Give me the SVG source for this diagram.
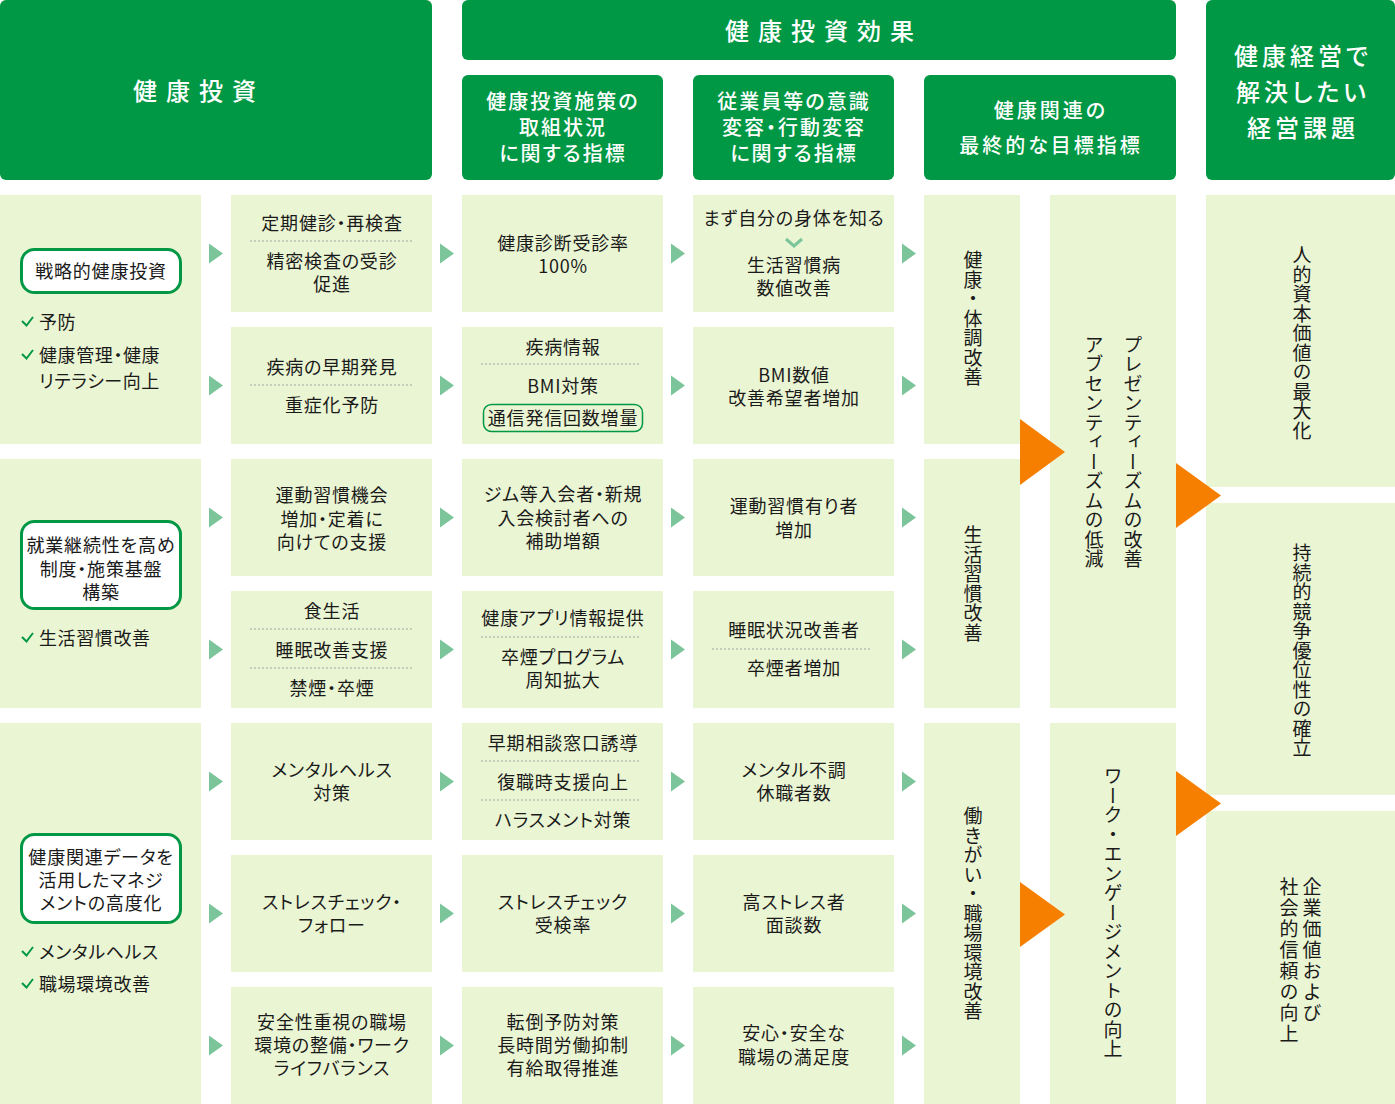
<svg xmlns="http://www.w3.org/2000/svg" xmlns:xlink="http://www.w3.org/1999/xlink" width="1395" height="1104" viewBox="0 0 1395 1104">
<defs>
<style>
text{font-family:"Noto Sans CJK JP","Liberation Sans",sans-serif;}
.hd{fill:#009844;}
.bx{fill:#eaf5d3;}
.sa{fill:#7cc59a;}
.oa{fill:#f77f00;}
.pill{fill:#fff;stroke:#009844;stroke-width:3;}
.pill2{fill:none;stroke:#009844;stroke-width:1.5;}
.ck{fill:none;stroke:#009844;stroke-width:2;}
.chev{fill:none;stroke:#7cc59a;stroke-width:3;}
.dl{stroke:#999;stroke-width:1.6;stroke-dasharray:0 4;stroke-linecap:round;}
.ht{fill:#fff;font-weight:500;text-anchor:middle;dominant-baseline:central;font-feature-settings:"palt";}
.t{fill:#1a1a1a;font-size:18px;letter-spacing:0.8px;text-anchor:middle;dominant-baseline:central;font-feature-settings:"palt";}
.tl{fill:#1a1a1a;font-size:18px;letter-spacing:0.6px;dominant-baseline:central;font-feature-settings:"palt";}
.vt{fill:#1a1a1a;font-size:19px;letter-spacing:0.5px;writing-mode:vertical-rl;text-anchor:middle;}
.vs{fill:#1a1a1a;font-size:19px;letter-spacing:2px;writing-mode:vertical-rl;text-anchor:start;}
</style>
<polygon id="sarrow" points="0,-10 14,0 0,10"/>
</defs>

<g id="headers">
<g id="h-invest"><rect class="hd" x="0" y="0" width="432" height="180" rx="6"/><text class="ht" x="199" y="89" font-size="24" letter-spacing="9">健康投資</text></g>
<g id="h-effect"><rect class="hd" x="462" y="0" width="714" height="60" rx="6"/><text class="ht" x="824" y="29" font-size="24" letter-spacing="9">健康投資効果</text></g>
<g id="h-sub1"><rect class="hd" x="462" y="75" width="201" height="105" rx="6"/><text class="ht" x="563" y="100" font-size="20" letter-spacing="2">健康投資施策の<tspan x="563" dy="26">取組状況</tspan><tspan x="563" dy="26">に関する指標</tspan></text></g>
<g id="h-sub2"><rect class="hd" x="693" y="75" width="201" height="105" rx="6"/><text class="ht" x="794" y="100" font-size="20" letter-spacing="2">従業員等の意識<tspan x="794" dy="26">変容・行動変容</tspan><tspan x="794" dy="26">に関する指標</tspan></text></g>
<g id="h-sub3"><rect class="hd" x="924" y="75" width="252" height="105" rx="6"/><text class="ht" x="1051" y="109" font-size="20" letter-spacing="3">健康関連の<tspan x="1051" dy="35">最終的な目標指標</tspan></text></g>
<g id="h-issue"><rect class="hd" x="1206" y="0" width="189" height="180" rx="6"/><text class="ht" x="1303" y="54" font-size="24" letter-spacing="4">健康経営で<tspan x="1303" dy="36">解決したい</tspan><tspan x="1303" dy="36">経営課題</tspan></text></g>
</g>

<g id="left-col">
<g id="L1"><rect class="bx" x="0" y="195" width="201" height="249"/>
<rect class="pill" x="21.5" y="249.5" width="159" height="43" rx="13"/>
<text class="t" x="101" y="270">戦略的健康投資</text>
<path class="ck" d="M22,321 L26.5,325.5 L33,317"/><text class="tl" x="39" y="321">予防</text>
<path class="ck" d="M22,354 L26.5,358.5 L33,350"/><text class="tl" x="39" y="354">健康管理・健康<tspan x="39" dy="26">リテラシー向上</tspan></text>
</g>
<g id="L2"><rect class="bx" x="0" y="459" width="201" height="249"/>
<rect class="pill" x="21.5" y="521.5" width="159" height="87" rx="13"/>
<text class="t" x="101" y="544">就業継続性を高め<tspan x="101" dy="23.5">制度・施策基盤</tspan><tspan x="101" dy="23.5">構築</tspan></text>
<path class="ck" d="M22,637 L26.5,641.5 L33,633"/><text class="tl" x="39" y="637">生活習慣改善</text>
</g>
<g id="L3"><rect class="bx" x="0" y="723" width="201" height="381"/>
<rect class="pill" x="21.5" y="834.5" width="159" height="88" rx="13"/>
<text class="t" x="101" y="856">健康関連データを<tspan x="101" dy="23">活用したマネジ</tspan><tspan x="101" dy="23">メントの高度化</tspan></text>
<path class="ck" d="M22,951 L26.5,955.5 L33,947"/><text class="tl" x="39" y="951">メンタルヘルス</text>
<path class="ck" d="M22,983 L26.5,987.5 L33,979"/><text class="tl" x="39" y="983">職場環境改善</text>
</g>
</g>

<g id="col2">
<g id="c2r1"><rect class="bx" x="231" y="195" width="201" height="117"/>
<text class="t" x="332" y="222">定期健診・再検査</text><line class="dl" x1="251" y1="241" x2="412" y2="241"/>
<text class="t" x="332" y="260">精密検査の受診<tspan x="332" dy="23">促進</tspan></text></g>
<g id="c2r2"><rect class="bx" x="231" y="327" width="201" height="117"/>
<text class="t" x="332" y="366">疾病の早期発見</text><line class="dl" x1="251" y1="385" x2="412" y2="385"/>
<text class="t" x="332" y="404">重症化予防</text></g>
<g id="c2r3"><rect class="bx" x="231" y="459" width="201" height="117"/>
<text class="t" x="332" y="494">運動習慣機会<tspan x="332" dy="23.5">増加・定着に</tspan><tspan x="332" dy="23.5">向けての支援</tspan></text></g>
<g id="c2r4"><rect class="bx" x="231" y="591" width="201" height="117"/>
<text class="t" x="332" y="610">食生活</text><line class="dl" x1="251" y1="629" x2="412" y2="629"/>
<text class="t" x="332" y="649">睡眠改善支援</text><line class="dl" x1="251" y1="668" x2="412" y2="668"/>
<text class="t" x="332" y="687">禁煙・卒煙</text></g>
<g id="c2r5"><rect class="bx" x="231" y="723" width="201" height="117"/>
<text class="t" x="332" y="769">メンタルヘルス<tspan x="332" dy="23">対策</tspan></text></g>
<g id="c2r6"><rect class="bx" x="231" y="855" width="201" height="117"/>
<text class="t" x="332" y="901">ストレスチェック・<tspan x="332" dy="23">フォロー</tspan></text></g>
<g id="c2r7"><rect class="bx" x="231" y="987" width="201" height="117"/>
<text class="t" x="332" y="1021">安全性重視の職場<tspan x="332" dy="23">環境の整備・ワーク</tspan><tspan x="332" dy="23">ライフバランス</tspan></text></g>
</g>

<g id="col3">
<g id="c3r1"><rect class="bx" x="462" y="195" width="201" height="117"/>
<text class="t" x="563" y="242">健康診断受診率<tspan x="563" dy="23">100%</tspan></text></g>
<g id="c3r2"><rect class="bx" x="462" y="327" width="201" height="117"/>
<text class="t" x="563" y="346">疾病情報</text><line class="dl" x1="482" y1="364" x2="642" y2="364"/>
<text class="t" x="563" y="385">BMI対策</text>
<rect class="pill2" x="483.5" y="404.5" width="159" height="27" rx="8"/>
<text class="t" x="563" y="417">通信発信回数増量</text></g>
<g id="c3r3"><rect class="bx" x="462" y="459" width="201" height="117"/>
<text class="t" x="563" y="493">ジム等入会者・新規<tspan x="563" dy="23.5">入会検討者への</tspan><tspan x="563" dy="23.5">補助増額</tspan></text></g>
<g id="c3r4"><rect class="bx" x="462" y="591" width="201" height="117"/>
<text class="t" x="563" y="617">健康アプリ情報提供</text><line class="dl" x1="482" y1="637" x2="642" y2="637"/>
<text class="t" x="563" y="656">卒煙プログラム<tspan x="563" dy="23">周知拡大</tspan></text></g>
<g id="c3r5"><rect class="bx" x="462" y="723" width="201" height="117"/>
<text class="t" x="563" y="742">早期相談窓口誘導</text><line class="dl" x1="482" y1="761" x2="642" y2="761"/>
<text class="t" x="563" y="781">復職時支援向上</text><line class="dl" x1="482" y1="800" x2="642" y2="800"/>
<text class="t" x="563" y="819">ハラスメント対策</text></g>
<g id="c3r6"><rect class="bx" x="462" y="855" width="201" height="117"/>
<text class="t" x="563" y="901">ストレスチェック<tspan x="563" dy="23">受検率</tspan></text></g>
<g id="c3r7"><rect class="bx" x="462" y="987" width="201" height="117"/>
<text class="t" x="563" y="1021">転倒予防対策<tspan x="563" dy="23">長時間労働抑制</tspan><tspan x="563" dy="23">有給取得推進</tspan></text></g>
</g>

<g id="col4">
<g id="c4r1"><rect class="bx" x="693" y="195" width="201" height="117"/>
<text class="t" x="794" y="217" letter-spacing="0">まず自分の身体を知る</text>
<path class="chev" d="M786,239 L794,246 L802,239"/>
<text class="t" x="794" y="264">生活習慣病<tspan x="794" dy="23">数値改善</tspan></text></g>
<g id="c4r2"><rect class="bx" x="693" y="327" width="201" height="117"/>
<text class="t" x="794" y="374">BMI数値<tspan x="794" dy="23">改善希望者増加</tspan></text></g>
<g id="c4r3"><rect class="bx" x="693" y="459" width="201" height="117"/>
<text class="t" x="794" y="505">運動習慣有り者<tspan x="794" dy="24">増加</tspan></text></g>
<g id="c4r4"><rect class="bx" x="693" y="591" width="201" height="117"/>
<text class="t" x="794" y="629">睡眠状況改善者</text><line class="dl" x1="713" y1="649" x2="873" y2="649"/>
<text class="t" x="794" y="667">卒煙者増加</text></g>
<g id="c4r5"><rect class="bx" x="693" y="723" width="201" height="117"/>
<text class="t" x="794" y="769">メンタル不調<tspan x="794" dy="23">休職者数</tspan></text></g>
<g id="c4r6"><rect class="bx" x="693" y="855" width="201" height="117"/>
<text class="t" x="794" y="901">高ストレス者<tspan x="794" dy="23">面談数</tspan></text></g>
<g id="c4r7"><rect class="bx" x="693" y="987" width="201" height="117"/>
<text class="t" x="794" y="1032">安心・安全な<tspan x="794" dy="24">職場の満足度</tspan></text></g>
</g>

<g id="col5">
<g id="c5a"><rect class="bx" x="924" y="195" width="96" height="249"/><text class="vt" x="973" y="319">健康・体調改善</text></g>
<g id="c5b"><rect class="bx" x="924" y="459" width="96" height="249"/><text class="vt" x="973" y="584">生活習慣改善</text></g>
<g id="c5c"><rect class="bx" x="924" y="723" width="96" height="381"/><text class="vt" x="973" y="914">働きがい・職場環境改善</text></g>
</g>

<g id="col6">
<g id="c6a"><rect class="bx" x="1050" y="195" width="126" height="513"/>
<text class="vt" x="1133" y="452">プレゼンティーズムの改善</text>
<text class="vt" x="1094" y="452">アブセンティーズムの低減</text></g>
<g id="c6b"><rect class="bx" x="1050" y="723" width="126" height="381"/><text class="vt" x="1113" y="913">ワーク・エンゲージメントの向上</text></g>
</g>

<g id="col7">
<g id="c7a"><rect class="bx" x="1206" y="195" width="189" height="292"/><text class="vt" x="1302" y="343" letter-spacing="2.5">人的資本価値の最大化</text></g>
<g id="c7b"><rect class="bx" x="1206" y="503" width="189" height="292"/><text class="vt" x="1302" y="651" letter-spacing="2.5">持続的競争優位性の確立</text></g>
<g id="c7c"><rect class="bx" x="1206" y="811" width="189" height="293"/>
<text class="vs" x="1312" y="877">企業価値および</text>
<text class="vs" x="1289" y="877">社会的信頼の向上</text></g>
</g>

<g id="connectors">
<g class="sa">
<use xlink:href="#sarrow" x="209" y="253.5"/><use xlink:href="#sarrow" x="209" y="385.5"/><use xlink:href="#sarrow" x="209" y="517.5"/><use xlink:href="#sarrow" x="209" y="649.5"/><use xlink:href="#sarrow" x="209" y="781.5"/><use xlink:href="#sarrow" x="209" y="913.5"/><use xlink:href="#sarrow" x="209" y="1045.5"/>
<use xlink:href="#sarrow" x="440" y="253.5"/><use xlink:href="#sarrow" x="440" y="385.5"/><use xlink:href="#sarrow" x="440" y="517.5"/><use xlink:href="#sarrow" x="440" y="649.5"/><use xlink:href="#sarrow" x="440" y="781.5"/><use xlink:href="#sarrow" x="440" y="913.5"/><use xlink:href="#sarrow" x="440" y="1045.5"/>
<use xlink:href="#sarrow" x="671" y="253.5"/><use xlink:href="#sarrow" x="671" y="385.5"/><use xlink:href="#sarrow" x="671" y="517.5"/><use xlink:href="#sarrow" x="671" y="649.5"/><use xlink:href="#sarrow" x="671" y="781.5"/><use xlink:href="#sarrow" x="671" y="913.5"/><use xlink:href="#sarrow" x="671" y="1045.5"/>
<use xlink:href="#sarrow" x="902" y="253.5"/><use xlink:href="#sarrow" x="902" y="385.5"/><use xlink:href="#sarrow" x="902" y="517.5"/><use xlink:href="#sarrow" x="902" y="649.5"/><use xlink:href="#sarrow" x="902" y="781.5"/><use xlink:href="#sarrow" x="902" y="913.5"/><use xlink:href="#sarrow" x="902" y="1045.5"/>
</g>
<polygon class="oa" points="1020,419 1065,452 1020,485"/>
<polygon class="oa" points="1020,882 1065,914.5 1020,947"/>
<polygon class="oa" points="1176,463 1221,495.5 1176,528"/>
<polygon class="oa" points="1176,771 1221,803.5 1176,836"/>
</g>
</svg>
